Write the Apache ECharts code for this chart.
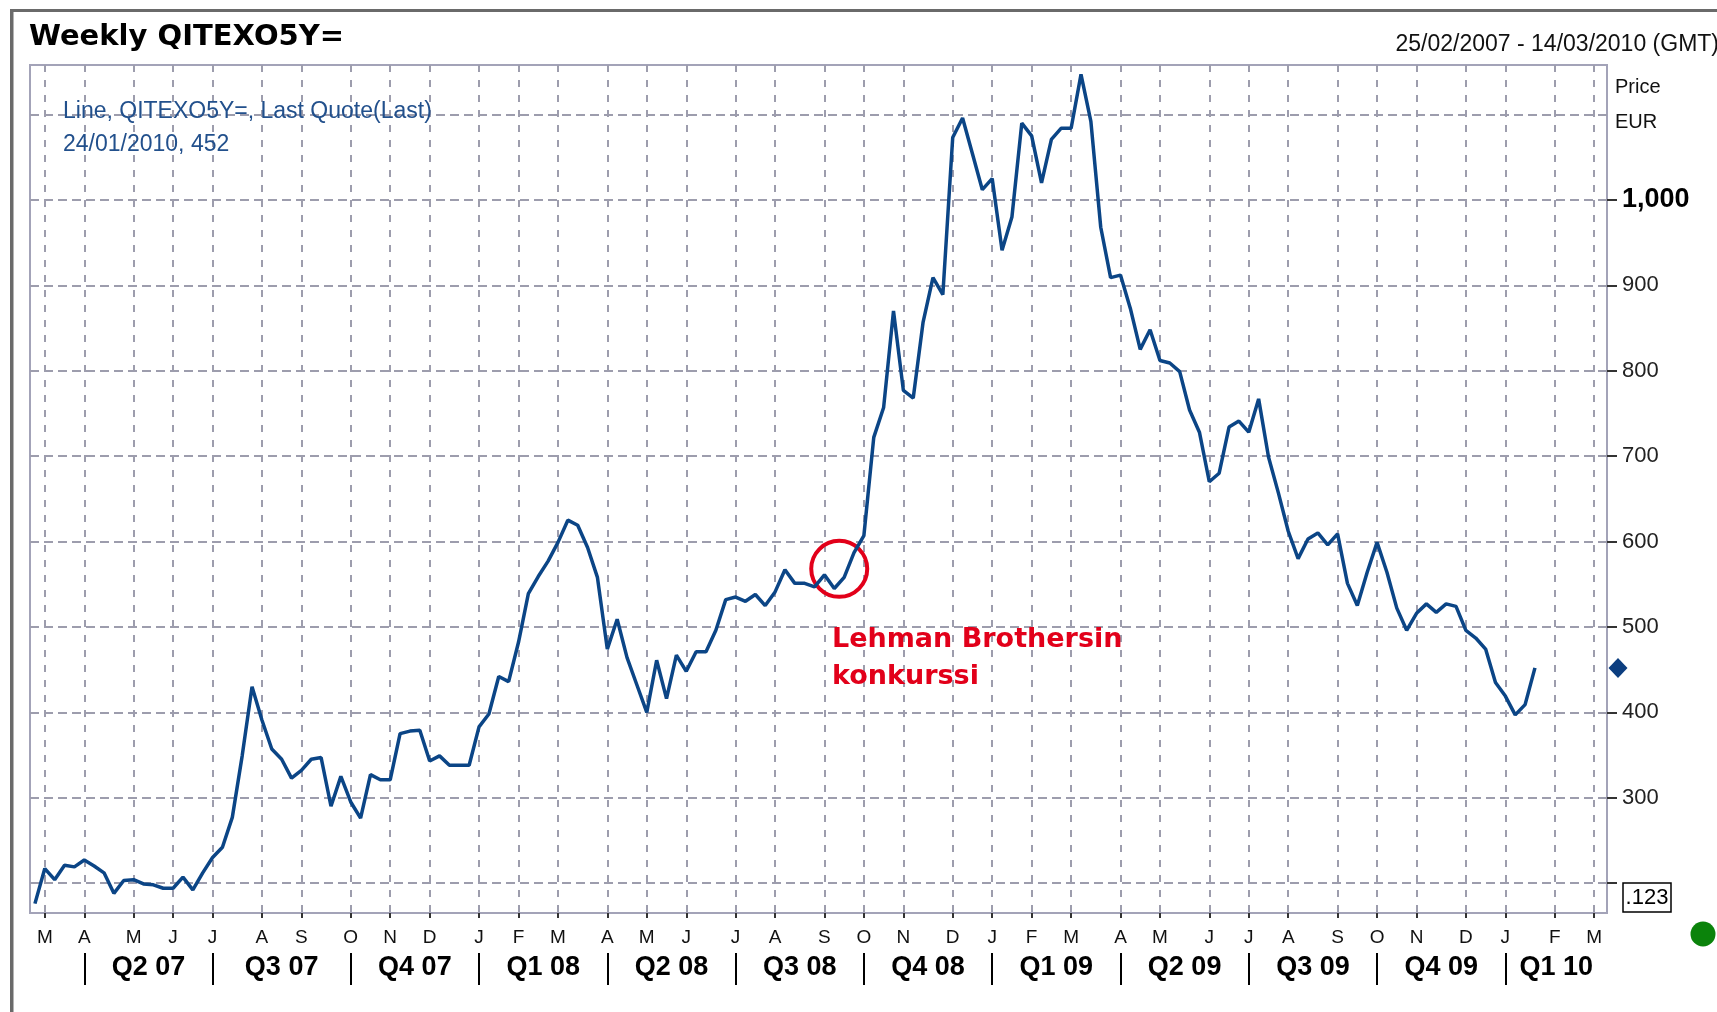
<!DOCTYPE html>
<html>
<head>
<meta charset="utf-8">
<title>Weekly QITEXO5Y=</title>
<script src="https://cdn.jsdelivr.net/npm/echarts@6.0.0/dist/echarts.min.js"></script>
<style>
  html, body { margin: 0; padding: 0; background: #fff; }
  #chart { width: 1717px; height: 1012px; }
</style>
</head>
<body>
<div id="chart"></div>
<script>
// weekly quotes, index 0 = 25/02/2007, one point per week up to 24/01/2010
var values = [
  176, 217, 204, 221, 219, 227, 220, 212, 188, 203,
  204, 199, 198, 194, 194, 207, 192, 212, 230, 242,
  277, 349, 430, 391, 357, 345, 323, 332, 345, 347,
  290, 325, 295, 276, 327, 321, 321, 375, 378, 379,
  343, 349, 338, 338, 338, 383, 398, 442, 436, 482,
  539, 559, 577, 599, 625, 619, 593, 558, 474, 509,
  464, 432, 400, 461, 416, 467, 448, 471, 471, 496,
  532, 535, 530, 538, 525, 541, 567, 551, 551, 547,
  561, 545, 558, 587, 607, 722, 757, 870, 777, 768,
  857, 909, 889, 1073, 1096, 1054, 1012, 1025, 941, 980,
  1090, 1075, 1020, 1071, 1084, 1084, 1147, 1092, 968, 909,
  912, 873, 825, 848, 812, 809, 799, 754, 728, 670,
  680, 734, 741, 728, 767, 699, 657, 612, 580, 603,
  610, 596, 609, 551, 525, 564, 599, 564, 522, 496,
  516, 527, 517, 527, 524, 496, 487, 474, 435, 419,
  397, 409, 452
];

// first weekly point of each month (week index) and its letter
var monthWeeks = [1, 5, 10, 14, 18, 23, 27, 32, 36, 40,
  45, 49, 53, 58, 62, 66, 71, 75, 80, 84, 88, 93,
  97, 101, 105, 110, 114, 119, 123, 127, 132, 136, 140, 145,
  149, 154, 158];
var monthLetters = ["M", "A", "M", "J", "J", "A", "S", "O", "N", "D",
  "J", "F", "M", "A", "M", "J", "J", "A", "S", "O", "N", "D",
  "J", "F", "M", "A", "M", "J", "J", "A", "S", "O", "N", "D",
  "J", "F", "M"];

// quarter boundaries (week index) and names
var quarterWeeks = [5, 18, 32, 45, 58, 71, 84, 97, 110, 123, 136, 149];
var quarterNames = ["Q2 07", "Q3 07", "Q4 07", "Q1 08", "Q2 08", "Q3 08",
  "Q4 08", "Q1 09", "Q2 09", "Q3 09", "Q4 09", "Q1 10"];

var priceTicks = [200, 300, 400, 500, 600, 700, 800, 900, 1000];
var priceLabels = [300, 400, 500, 600, 700, 800, 900, 1000];
var priceGrid = [200, 300, 400, 500, 600, 700, 800, 900, 1000, 1100];

var lastQuote = { date: "24/01/2010", value: 452 };
var lehman = { week: 81.5, value: 568 };

var xMin = -0.5, xMax = 159.3;
var yMin = 165, yMax = 1158;

var seriesData = values.map(function (v, i) { return [i, v]; });

var quarterMids = quarterWeeks.map(function (w, k) {
  var next = k < quarterWeeks.length - 1 ? quarterWeeks[k + 1] : xMax;
  return (w + next) / 2;
});

function nearest(list, v) {
  var best = 0;
  for (var k = 1; k < list.length; k++) {
    if (Math.abs(list[k] - v) < Math.abs(list[best] - v)) best = k;
  }
  return best;
}

var gridColor = "#9d9dad";
var baseFont = '"Liberation Sans", Arial, sans-serif';

var chart = echarts.init(document.getElementById("chart"));

var option = {
  animation: false,
  backgroundColor: "#fff",
  textStyle: { fontFamily: baseFont },
  grid: {
    left: 30,
    top: 65,
    width: 1577,
    height: 848,
    show: true,
    borderColor: "#a3a3b8",
    borderWidth: 2,
    outerBoundsMode: "none"
  },
  xAxis: [
    {
      type: "value",
      min: xMin,
      max: xMax,
      position: "bottom",
      axisLine: { show: false, onZero: false },
      axisTick: {
        show: true,
        customValues: monthWeeks,
        length: 5,
        lineStyle: { color: "#333", width: 2 }
      },
      axisLabel: {
        customValues: monthWeeks,
        formatter: function (v) { return monthLetters[nearest(monthWeeks, v)]; },
        margin: 15,
        fontSize: 19,
        color: "#111"
      },
      splitLine: {
        show: true,
        lineStyle: { color: gridColor, width: 2, type: [7, 8] }
      }
    },
    {
      // quarter row
      type: "value",
      min: xMin,
      max: xMax,
      position: "bottom",
      offset: 40,
      axisLine: { show: false, onZero: false },
      axisTick: {
        show: true,
        customValues: quarterWeeks,
        length: 32,
        lineStyle: { color: "#000", width: 2 }
      },
      axisLabel: {
        customValues: quarterMids,
        formatter: function (v) { return quarterNames[nearest(quarterMids, v)]; },
        margin: 1,
        fontSize: 27,
        fontWeight: "bold",
        color: "#000"
      },
      splitLine: { show: false }
    }
  ],
  yAxis: [
    {
      type: "value",
      min: yMin,
      max: yMax,
      position: "right",
      axisLine: { show: false, onZero: false },
      axisTick: {
        show: true,
        customValues: priceTicks,
        length: 10,
        lineStyle: { color: "#333", width: 2 }
      },
      axisLabel: {
        customValues: priceLabels,
        margin: 15,
        fontSize: 22,
        color: "#222",
        formatter: function (v) { return v === 1000 ? "{b|1,000}" : String(v); },
        rich: {
          b: { fontSize: 27, fontWeight: "bold", color: "#000", fontFamily: baseFont }
        }
      },
      splitLine: { show: false }
    },
    {
      // dashed horizontal grid only
      type: "value",
      min: yMin,
      max: yMax,
      position: "left",
      axisLine: { show: false, onZero: false },
      axisTick: {
        show: false,
        length: 0,
        customValues: priceGrid,
        lineStyle: { color: "rgba(0,0,0,0)", width: 0 }
      },
      axisLabel: { show: false },
      splitLine: {
        show: true,
        lineStyle: { color: gridColor, width: 2, type: [9, 5] }
      }
    }
  ],
  series: [
    {
      name: "QITEXO5Y=",
      type: "line",
      data: seriesData,
      showSymbol: false,
      symbol: "none",
      lineStyle: { color: "#0b4586", width: 3.5 },
      z: 5,
      markPoint: {
        symbol: "circle",
        symbolSize: 56,
        silent: true,
        itemStyle: { color: "rgba(0,0,0,0)", borderColor: "#e2001a", borderWidth: 4 },
        label: { show: false },
        data: [{ coord: [lehman.week, lehman.value] }]
      }
    }
  ]
};

chart.setOption(option);

var yLast = chart.convertToPixel({ yAxisIndex: 0 }, lastQuote.value);
var y200 = chart.convertToPixel({ yAxisIndex: 0 }, 200);

chart.setOption({
  graphic: [
    // outer frame (top and left)
    { type: "rect", shape: { x: 10, y: 9, width: 1707, height: 3 }, style: { fill: "#6a6a6a" } },
    { type: "rect", shape: { x: 10, y: 9, width: 3.5, height: 1003 }, style: { fill: "#6a6a6a" } },
    {
      type: "text", x: 29, y: 37,
      style: { text: "Weekly QITEXO5Y=", fill: "#000", font: 'bold 29px "DejaVu Sans", sans-serif', verticalAlign: "middle" }
    },
    {
      type: "text", x: 1719, y: 45,
      style: { text: "25/02/2007 - 14/03/2010 (GMT)", fill: "#111", font: "23px " + baseFont, align: "right", verticalAlign: "middle" }
    },
    {
      type: "text", x: 1615, y: 87,
      style: { text: "Price", fill: "#111", font: "20px " + baseFont, verticalAlign: "middle" }
    },
    {
      type: "text", x: 1615, y: 122,
      style: { text: "EUR", fill: "#111", font: "20px " + baseFont, verticalAlign: "middle" }
    },
    {
      type: "text", x: 63, y: 112,
      style: { text: "Line, QITEXO5Y=, Last Quote(Last)", fill: "#22508c", font: "23px " + baseFont, verticalAlign: "middle" }
    },
    {
      type: "text", x: 63, y: 145,
      style: { text: lastQuote.date + ", " + lastQuote.value, fill: "#22508c", font: "23px " + baseFont, verticalAlign: "middle" }
    },
    {
      type: "text", x: 832, y: 640, z: 100,
      style: { text: "Lehman Brothersin", fill: "#e2001a", font: 'bold 27px "DejaVu Sans", sans-serif', verticalAlign: "middle" }
    },
    {
      type: "text", x: 832, y: 677, z: 100,
      style: { text: "konkurssi", fill: "#e2001a", font: 'bold 27px "DejaVu Sans", sans-serif', verticalAlign: "middle" }
    },
    // last quote marker on the price axis
    {
      type: "polygon",
      shape: { points: [[1618, yLast - 10], [1627.5, yLast], [1618, yLast + 10], [1608.5, yLast]] },
      style: { fill: "#0c3e80" }
    },
    // ".123" box at the 200 tick
    {
      type: "rect",
      shape: { x: 1623, y: y200, width: 48, height: 29 },
      style: { fill: "#fff", stroke: "#000", lineWidth: 1.5 }
    },
    {
      type: "text", x: 1647, y: y200 + 15,
      style: { text: ".123", fill: "#000", font: "22px " + baseFont, align: "center", verticalAlign: "middle" }
    },
    {
      type: "circle",
      shape: { cx: 1703, cy: 934, r: 12.5 },
      style: { fill: "#0b830b" }
    }
  ]
});
</script>
</body>
</html>
